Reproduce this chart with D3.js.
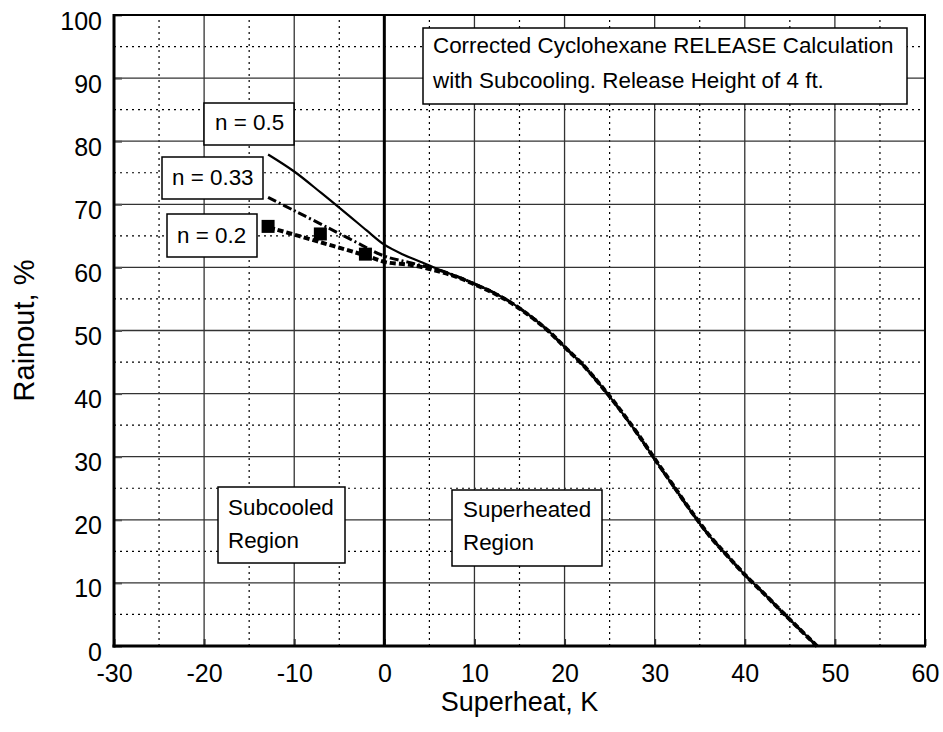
<!DOCTYPE html>
<html>
<head>
<meta charset="utf-8">
<script src="https://cdn.jsdelivr.net/npm/d3@7/dist/d3.min.js"></script>
<style>
  html, body { margin: 0; padding: 0; background: #fff; }
  svg { display: block; font-family: Arial, "Liberation Sans", Helvetica, sans-serif; }
</style>
</head>
<body>
<svg id="chart" width="943" height="732"></svg>
<script>
// ---- Data ----
const xTicks = [-30, -20, -10, 0, 10, 20, 30, 40, 50, 60];
const yTicks = [0, 10, 20, 30, 40, 50, 60, 70, 80, 90, 100];

// shared tail of all three curves (superheat K, rainout %)
const tailSuperheat = [8, 10, 12, 14, 16, 18, 20, 22, 24, 26, 28, 30, 32, 34, 36, 38, 40, 42, 44, 46, 48];
const tailRainout   = [58.6, 57.4, 56.1, 54.5, 52.5, 50.2, 47.4, 44.6, 41.3, 37.7, 33.8, 29.6, 25.5, 21.4, 17.6, 14.4, 11.3, 8.5, 5.6, 2.8, 0];

// n = 0.5 (solid)
const n05Superheat = [-12.9, -10, -7, -4, -2, 0, 2, 4, 6];
const n05Rainout   = [77.9, 75.2, 71.8, 68.3, 65.9, 63.6, 62.1, 60.9, 59.7];
// n = 0.33 (dash-dot)
const n033Superheat = [-12.9, -10, -6, -3, 0, 3, 6];
const n033Rainout   = [71.1, 69.0, 66.1, 63.9, 61.8, 60.7, 59.6];
// n = 0.2 (dashed with square markers)
const n02Superheat = [-12.9, -7.1, -2.1, 0, 3, 6];
const n02Rainout   = [66.5, 64.1, 62.0, 61.0, 60.5, 59.5];
const n02MarkerSuperheat = [-12.9, -7.1, -2.1];
const n02MarkerRainout   = [66.5, 65.3, 62.1];

const titleLines = ["Corrected Cyclohexane RELEASE Calculation", "with Subcooling. Release Height of 4 ft."];

// ---- Layout ----
const svg = d3.select("#chart");
const x = d3.scaleLinear().domain([-30, 60]).range([114, 925]);
const y = d3.scaleLinear().domain([0, 100]).range([646, 15]);
const FONT = "Arial, 'Liberation Sans', Helvetica, sans-serif";

const g = svg.append("g");

// minor dotted grid
const minorX = d3.range(-25, 60, 10);
const minorY = d3.range(5, 100, 10);
g.selectAll(".mx").data(minorX).enter().append("line")
  .attr("x1", d => x(d)).attr("x2", d => x(d)).attr("y1", y(0)).attr("y2", y(100))
  .attr("stroke", "#000").attr("stroke-width", 1.2).attr("stroke-dasharray", "2,4");
g.selectAll(".my").data(minorY).enter().append("line")
  .attr("x1", x(-30)).attr("x2", x(60)).attr("y1", d => y(d)).attr("y2", d => y(d))
  .attr("stroke", "#000").attr("stroke-width", 1.2).attr("stroke-dasharray", "2,4");

// major solid grid
g.selectAll(".Mx").data(xTicks).enter().append("line")
  .attr("x1", d => x(d)).attr("x2", d => x(d)).attr("y1", y(0)).attr("y2", y(100))
  .attr("stroke", "#333").attr("stroke-width", 1.3);
g.selectAll(".My").data(yTicks).enter().append("line")
  .attr("x1", x(-30)).attr("x2", x(60)).attr("y1", d => y(d)).attr("y2", d => y(d))
  .attr("stroke", "#333").attr("stroke-width", 1.3);

// axes via d3 axis (labels; short ticks inside)
const xAxis = d3.axisBottom(x).tickValues(xTicks).tickSize(-7).tickPadding(0).tickFormat(d => String(d));
const yAxis = d3.axisLeft(y).tickValues(yTicks).tickSize(-8).tickPadding(0).tickFormat(d => String(d));

const gx = svg.append("g").attr("transform", `translate(0,${y(0)})`).call(xAxis);
gx.select(".domain").remove();
gx.selectAll(".tick line").attr("stroke", "#333").attr("stroke-width", 2);
gx.selectAll(".tick text").attr("font-size", 25).attr("fill", "#000")
  .attr("font-family", FONT).attr("y", 36).attr("dy", 0);

const gy = svg.append("g").attr("transform", `translate(${x(-30)},0)`).call(yAxis);
gy.select(".domain").remove();
gy.selectAll(".tick line").attr("stroke", "#555").attr("stroke-width", 2);
gy.selectAll(".tick text").attr("font-size", 25).attr("fill", "#000")
  .attr("font-family", FONT).attr("x", -12).attr("dy", 14);

// frame
svg.append("rect").attr("x", x(-30)).attr("y", y(100)).attr("width", x(60) - x(-30)).attr("height", y(0) - y(100))
  .attr("fill", "none").attr("stroke", "#000").attr("stroke-width", 2);
svg.append("line").attr("x1", x(-30)).attr("x2", x(-30)).attr("y1", y(100) - 1).attr("y2", y(0) + 1.5)
  .attr("stroke", "#000").attr("stroke-width", 3);
svg.append("line").attr("x1", x(-30) - 1.5).attr("x2", x(60) + 1).attr("y1", y(0)).attr("y2", y(0))
  .attr("stroke", "#000").attr("stroke-width", 3);

// zero line
svg.append("line").attr("x1", x(0)).attr("x2", x(0)).attr("y1", y(0)).attr("y2", y(100))
  .attr("stroke", "#000").attr("stroke-width", 3);

// curves
const line = d3.line().x(d => x(d[0])).y(d => y(d[1])).curve(d3.curveCatmullRom.alpha(0.5));
const join = (ks, rs) => ks.map((k, i) => [k, rs[i]]).concat(tailSuperheat.map((k, i) => [k, tailRainout[i]]));

svg.append("path").datum(join(n02Superheat, n02Rainout)).attr("d", line)
  .attr("fill", "none").attr("stroke", "#000").attr("stroke-width", 4).attr("stroke-dasharray", "6,3")
  .attr("transform", "translate(1,1)");
svg.append("path").datum(join(n033Superheat, n033Rainout)).attr("d", line)
  .attr("fill", "none").attr("stroke", "#000").attr("stroke-width", 3).attr("stroke-dasharray", "9,3,2,3");
svg.append("path").datum(join(n05Superheat, n05Rainout)).attr("d", line)
  .attr("fill", "none").attr("stroke", "#000").attr("stroke-width", 2.2);

svg.selectAll(".mk").data(n02MarkerSuperheat.map((k, i) => [k, n02MarkerRainout[i]])).enter().append("rect")
  .attr("x", d => x(d[0]) - 6.5).attr("y", d => y(d[1]) - 6.5).attr("width", 13).attr("height", 13).attr("fill", "#000");

// annotation boxes
function box(x0, y0, w, h, lines, tx, baselines) {
  const b = svg.append("g");
  b.append("rect").attr("x", x0).attr("y", y0).attr("width", w).attr("height", h)
    .attr("fill", "#fff").attr("stroke", "#000").attr("stroke-width", 1.5);
  lines.forEach((t, i) => {
    b.append("text").attr("x", tx).attr("y", baselines[i]).attr("font-size", 22.4)
      .attr("font-family", FONT).attr("fill", "#000").text(t);
  });
}
box(423, 28, 484, 76, titleLines, 433, [53, 88]);
box(204, 103, 90, 42, ["n = 0.5"], 215, [130]);
box(162, 157, 101, 42, ["n = 0.33"], 172, [185]);
box(167, 214, 90, 43, ["n = 0.2"], 177, [243]);
box(218, 487, 127, 76, ["Subcooled", "Region"], 228, [515, 548]);
box(452, 490, 150, 76, ["Superheated", "Region"], 463, [517, 550]);

// axis titles
svg.append("text").attr("x", (x(-30) + x(60)) / 2).attr("y", 711).attr("text-anchor", "middle")
  .attr("font-size", 27).attr("font-family", FONT).attr("fill", "#000").text("Superheat, K");
svg.append("text").attr("transform", `translate(34,${(y(0) + y(100)) / 2}) rotate(-90)`).attr("text-anchor", "middle")
  .attr("font-size", 29).attr("font-family", FONT).attr("fill", "#000").text("Rainout, %");
</script>
</body>
</html>
